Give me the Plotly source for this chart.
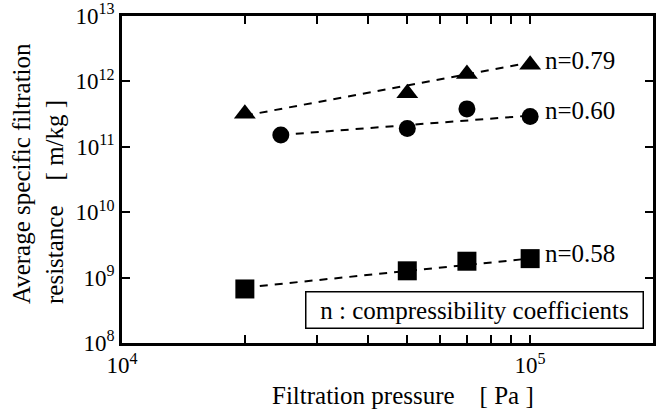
import math
import plotly.graph_objects as go

# ---- data ----
tri_x = [2e4, 5e4, 7e4, 1e5]
tri_y = [3.2e11, 6.6e11, 1.3e12, 1.8e12]
cir_x = [2.45e4, 5e4, 7e4, 1e5]
cir_y = [1.52e11, 1.9e11, 3.8e11, 2.9e11]
sq_x = [2e4, 5e4, 7e4, 1e5]
sq_y = [6.7e8, 1.27e9, 1.78e9, 1.95e9]

tri_fit_x = [2e4, 1e5]
tri_fit_y = [3.0e11, 1.94e12]
cir_fit_x = [2.45e4, 1e5]
cir_fit_y = [1.52e11, 3.0e11]
sq_fit_x = [2e4, 1e5]
sq_fit_y = [7.06e8, 1.96e9]

n_labels = ["n=0.79", "n=0.60", "n=0.58"]
x_tickvals = [1e4, 2e4, 3e4, 4e4, 5e4, 6e4, 7e4, 8e4, 9e4, 1e5]
x_ticktext = ["10<sup>4</sup>", "", "", "", "", "", "", "", "", "10<sup>5</sup>"]
y_tickvals = [1e8, 1e9, 1e10, 1e11, 1e12, 1e13]
y_ticktext = ["10<sup>8</sup>", "10<sup>9</sup>", "10<sup>10</sup>",
              "10<sup>11</sup>", "10<sup>12</sup>", "10<sup>13</sup>"]

FONT = "Liberation Serif"
FS = 25
TFS = 23
dash = "8px,7px"

fig = go.Figure()
for fx, fy in [(tri_fit_x, tri_fit_y), (cir_fit_x, cir_fit_y), (sq_fit_x, sq_fit_y)]:
    fig.add_trace(go.Scatter(x=fx, y=fy, mode="lines",
                             line=dict(color="black", width=2, dash=dash),
                             showlegend=False, hoverinfo="skip"))

fig.add_trace(go.Scatter(x=tri_x, y=tri_y, mode="markers",
                         marker=dict(symbol="triangle-up", size=19, color="black"),
                         showlegend=False))
fig.add_trace(go.Scatter(x=cir_x, y=cir_y, mode="markers",
                         marker=dict(symbol="circle", size=17, color="black"),
                         showlegend=False))
fig.add_trace(go.Scatter(x=sq_x, y=sq_y, mode="markers",
                         marker=dict(symbol="square", size=19, color="black"),
                         showlegend=False))

T, B = 16, 343  # plot area top / bottom in pixels
H = B - T
nb = "\u00a0"
annotations = []
for txt, yc in zip(n_labels, [61, 110, 253.5]):
    annotations.append(dict(text=txt, xref="x", x=5, xanchor="left", xshift=13,
                            yref="paper", y=(B - yc) / H, yanchor="middle",
                            showarrow=False, font=dict(family=FONT, size=FS, color="black")))
annotations.append(dict(text="n : compressibility coefficients",
                        xref="paper", x=(474.5 - 122) / 531, xanchor="center",
                        yref="paper", y=(B - 309.5) / H, yanchor="middle",
                        showarrow=False, bgcolor="white", bordercolor="black",
                        borderwidth=1.5, borderpad=1, width=334, height=33,
                        font=dict(family=FONT, size=FS, color="black")))
annotations.append(dict(text="Filtration pressure" + nb * 4 + "[ Pa ]",
                        xref="paper", x=(403 - 122) / 531, xanchor="center",
                        yref="paper", y=0, yanchor="middle", yshift=-52,
                        showarrow=False, font=dict(family=FONT, size=FS, color="black")))
annotations.append(dict(text="Average specific filtration<br>resistance" + nb * 4 + "[ m/kg ]",
                        xref="paper", x=0, xanchor="center", xshift=-(122 - 37.5),
                        yref="paper", y=(B - 173.5) / H, yanchor="middle",
                        textangle=-90, align="left",
                        showarrow=False, font=dict(family=FONT, size=FS, color="black")))

fig.update_layout(
    width=657, height=414, autosize=False,
    margin=dict(l=122, r=4, t=T, b=414 - B, pad=0),
    plot_bgcolor="white", paper_bgcolor="white",
    font=dict(family=FONT, size=FS, color="black"),
    annotations=annotations,
)
common = dict(ticks="inside", ticklen=8, tickwidth=1.5, tickcolor="black",
              showline=True, linewidth=2.5, linecolor="black", mirror="ticks",
              showgrid=False, zeroline=False, automargin=False,
              ticklabeloverflow="allow",
              tickfont=dict(family=FONT, size=TFS, color="black"))
fig.update_xaxes(type="log", range=[3.99999, math.log10(2e5)],
                 tickvals=x_tickvals, ticktext=x_ticktext, **common)
fig.update_yaxes(type="log", range=[7.99999, 13.00001],
                 tickvals=y_tickvals, ticktext=y_ticktext, **common)

# remove the page's default 8px body margin so the figure sits at the window origin
fig.write_html("out.html", config={"displayModeBar": False},
               post_script="document.body.style.margin='0';")
